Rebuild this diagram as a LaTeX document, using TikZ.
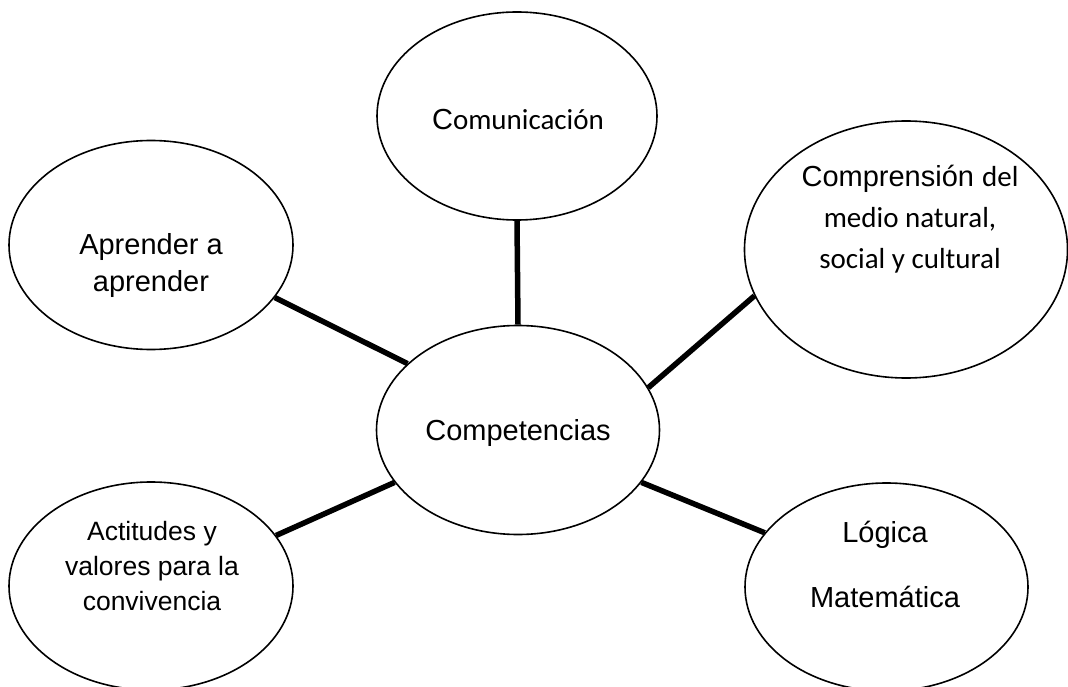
\documentclass[tikz,border=0pt]{standalone}
\usepackage{fontspec}
\setmainfont{Liberation Sans}
\newfontfamily\calib{Carlito}
\usetikzlibrary{shapes.geometric}
\newcommand{\fs}[2]{\fontsize{#1}{#2}\selectfont}
\begin{document}
\begin{tikzpicture}[x=1pt,y=-1pt,
  bub/.style 2 args={draw, ellipse, line width=1.6pt, inner sep=0pt, minimum width=#1, minimum height=#2},
  txt/.style={align=center, inner sep=0pt, font=\fs{29}{35}},
  conn/.style={line width=5.5pt}]
\useasboundingbox (0,0) rectangle (1068,687);
\clip (0,0) rectangle (1068,687);
% ellipses
\node[bub={280pt}{208pt}] (T) at (517,116) {};
\node[bub={283pt}{209pt}] (C) at (518,430) {};
\node[bub={284pt}{209pt}] (L) at (151,245) {};
\node[bub={323pt}{257pt}] (R) at (906,249.5) {};
\node[bub={284pt}{208pt}] (BL) at (151,586) {};
\node[bub={283pt}{208pt}] (BR) at (886.5,587) {};
% texts
\node[txt] (tT) at (518,120) {C{\calib omunicación}};
\node[txt] (tC) at (518,433) {Competencias};
\node[txt, font=\fs{29}{37}] (tL) at (151,266) {Aprender a\\aprender};
\node[txt, font=\fs{29}{41}] (tR) at (910,219) {Comprensión {\calib del}\\{\calib medio natural,}\\{\calib social y cultural}};
\node[txt, font=\fs{26.5}{35}] (tBL) at (152,566) {Actitudes y\\valores para la\\convivencia};
\node[txt, font=\fs{29}{65}] (tBR) at (885,564) {Lógica\\Matemática};
% connectors
\draw[conn] (T.270) -- (C.90);
\draw[conn] (L.-23.1) -- (C.149.6);
\draw[conn] (R.197.8) -- (C.18.2);
\draw[conn] (BL.22.6) -- (C.203.7);
\draw[conn] (BR.156.9) -- (C.337.6);
\end{tikzpicture}
\end{document}
